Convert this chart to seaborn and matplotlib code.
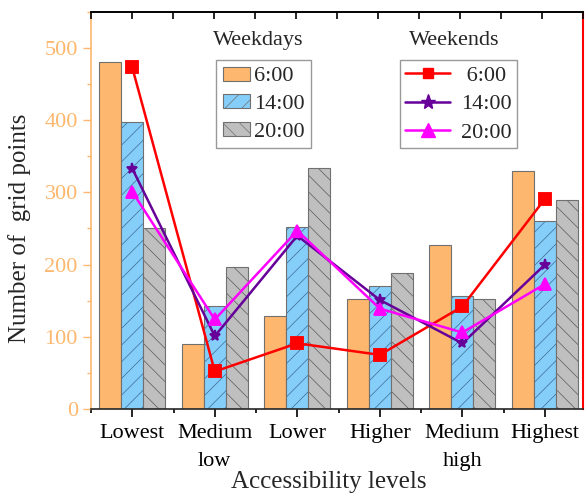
import matplotlib
matplotlib.use("Agg")
import matplotlib.pyplot as plt
from matplotlib.ticker import MultipleLocator
from matplotlib.patches import Patch
from matplotlib.lines import Line2D
import seaborn as sns
import pandas as pd

levels = ["Lowest", "Medium\nlow", "Lower", "Higher", "Medium\nhigh", "Highest"]
times = ["6:00", "14:00", "20:00"]

weekday_600 = [480, 90, 129, 152, 227, 329]
weekday_1400 = [398, 142, 252, 170, 157, 260]
weekday_2000 = [250, 197, 334, 188, 152, 290]

weekend_600 = [473, 52, 91, 75, 142, 291]
weekend_1400 = [333, 101, 240, 151, 91, 200]
weekend_2000 = [301, 124, 247, 139, 106, 173]

bar_colors = ["#FDB76E", "#86CEFA", "#BFBFBF"]
hatches = [None, "//", "\\\\"]
hatch_colors = [None, "#3A6A90", "#5A5A5A"]
line_colors = ["#FF0000", "#660099", "#FF00FF"]
line_markers = ["s", "*", "^"]
marker_sizes = [7.5, 11, 10]

sns.set_style("ticks")
plt.rcParams["font.family"] = ["Liberation Serif", "DejaVu Serif"]
plt.rcParams["hatch.linewidth"] = 0.5

df_bar = pd.DataFrame({
    "level": levels * 3,
    "time": [t for t in times for _ in levels],
    "value": weekday_600 + weekday_1400 + weekday_2000,
})
df_line = pd.DataFrame({
    "level": levels * 3,
    "time": [t for t in times for _ in levels],
    "value": weekend_600 + weekend_1400 + weekend_2000,
})

fig = plt.figure(figsize=(5.87, 4.94), dpi=100)
ax = fig.add_axes([0.155, 0.172, 0.838, 0.804])

sns.barplot(data=df_bar, x="level", y="value", hue="time", order=levels,
            hue_order=times, palette=bar_colors, width=0.8, edgecolor="#707070",
            linewidth=0.8, saturation=1, ax=ax, legend=False)

for cont, h, hc in zip(ax.containers, hatches, hatch_colors):
    for p in cont:
        if h:
            p.set_hatch(h)
            p._hatch_color = matplotlib.colors.to_rgba(hc)

sns.pointplot(data=df_line, x="level", y="value", hue="time", order=levels,
              hue_order=times, palette=line_colors, markers=line_markers,
              linestyles="-", dodge=False, ax=ax, legend=False,
              markersize=8, linewidth=1.8)
for ln, ms in zip(ax.lines, marker_sizes):
    ln.set_markersize(ms)

ax.set_xlim(-0.5, 5.46)
ax.set_ylim(0, 550)

orange = "#FDB76E"
ax.yaxis.set_major_locator(MultipleLocator(100))
ax.yaxis.set_minor_locator(MultipleLocator(50))
ax.tick_params(axis="y", which="major", length=6, width=1, color=orange,
               labelcolor=orange, labelsize=16, direction="out")
ax.tick_params(axis="y", which="minor", length=3, width=1, color=orange,
               direction="out")
ax.spines["left"].set_color(orange)
ax.spines["left"].set_linewidth(1.2)
ax.spines["right"].set_visible(True)
ax.spines["right"].set_color("#FF0000")
ax.spines["right"].set_linewidth(1.5)
ax.spines["top"].set_visible(True)
ax.spines["top"].set_color("black")
ax.spines["top"].set_linewidth(1.2)
ax.spines["bottom"].set_linewidth(1.2)

ax.xaxis.set_minor_locator(MultipleLocator(0.5))
ax.tick_params(axis="x", which="major", length=6, width=1.2,
               direction="out", color="black", labelcolor="black", pad=5)
ax.tick_params(axis="x", which="minor", length=3, width=1.2, direction="out",
               color="black")
ax.set_xticks(range(len(levels)))
ax.set_xticklabels(levels, fontsize=16, linespacing=1.6)

top = ax.twiny()
top.set_xlim(ax.get_xlim())
top.set_xticks([i * 0.5 for i in range(-1, 12)])
top.tick_params(axis="x", which="major", direction="in", length=5, width=1.2,
                labeltop=False, top=True, bottom=False, color="black")
for s in ["left", "right", "bottom"]:
    top.spines[s].set_visible(False)
top.spines["top"].set_color("black")
top.spines["top"].set_linewidth(1.2)

ax.set_xlabel("Accessibility levels", fontsize=18)
ax.xaxis.set_label_coords(0.484, -0.155)
ax.set_ylabel("Number of  grid points", fontsize=18)
ax.yaxis.set_label_coords(-0.122, 0.456)

bar_handles = [Patch(facecolor=c, edgecolor="#707070", linewidth=0.8, hatch=h)
               for c, h in zip(bar_colors, hatches)]
leg1 = ax.legend(bar_handles, times, loc="upper left",
                 bbox_to_anchor=(0.254, 0.879), fontsize=16, frameon=True,
                 fancybox=False, edgecolor="#808080", handlelength=1.25,
                 handleheight=0.6, handletextpad=0.15, borderpad=0.3,
                 labelspacing=0.35, borderaxespad=0)
leg1.get_frame().set_linewidth(1.0)
leg1._legend_box.sep = 0
ax.add_artist(leg1)

line_handles = [Line2D([], [], color=c, marker=m, linewidth=1.8, markersize=ms)
                for c, m, ms in zip(line_colors, line_markers, marker_sizes)]
leg2 = ax.legend(line_handles, [" " + t if t == "6:00" else t for t in times],
                 loc="upper left", bbox_to_anchor=(0.628, 0.879), fontsize=16,
                 frameon=True, fancybox=False, edgecolor="#808080",
                 handlelength=2.0, handletextpad=0.5, borderpad=0.25,
                 labelspacing=0.35, borderaxespad=0, numpoints=1)
leg2.get_frame().set_linewidth(1.0)

ax.text(0.341, 0.929, "Weekdays", transform=ax.transAxes, fontsize=16,
        ha="center", va="center")
ax.text(0.738, 0.929, "Weekends", transform=ax.transAxes, fontsize=16,
        ha="center", va="center")

fig.savefig("out.png", dpi=100)
